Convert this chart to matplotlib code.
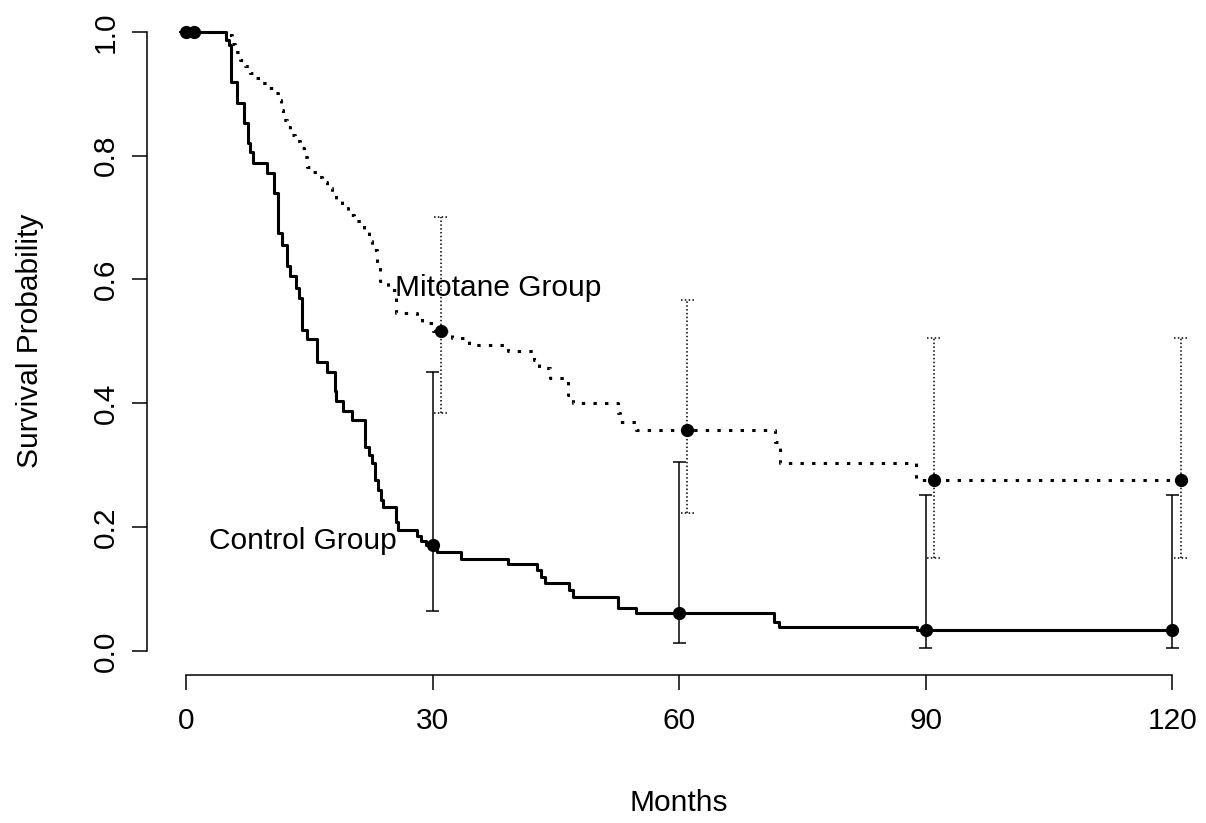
#!/usr/bin/python3
import matplotlib
matplotlib.use('Agg')
import matplotlib.pyplot as plt

# Kaplan-Meier step values (months, survival).
control_t = [0, 4.9, 5.2, 5.5, 6.2, 7.0, 7.5, 7.8, 8.2, 9.9, 10.7, 11.2, 11.7,
             12.3, 12.7, 13.4, 13.8, 14.1, 14.7, 15.9, 17.1, 18.1, 18.3, 19.1,
             20.2, 21.8, 22.2, 22.6, 23.0, 23.4, 23.7, 24.0, 25.5, 25.8, 28.1,
             28.6, 29.2, 30.5, 33.5, 39.2, 42.7, 43.2, 43.7, 46.6, 47.1, 52.6,
             54.8, 71.5, 72.2, 88.9, 120]
control_s = [1.0, 0.987, 0.979, 0.919, 0.885, 0.853, 0.82, 0.805, 0.788, 0.772,
             0.740, 0.675, 0.656, 0.621, 0.605, 0.586, 0.570, 0.519, 0.503,
             0.467, 0.451, 0.419, 0.403, 0.387, 0.373, 0.330, 0.317, 0.303,
             0.276, 0.260, 0.244, 0.233, 0.208, 0.195, 0.185, 0.178, 0.171,
             0.160, 0.149, 0.141, 0.131, 0.120, 0.110, 0.099, 0.087, 0.069,
             0.061, 0.047, 0.039, 0.033, 0.033]

mitotane_t = [0, 5.1, 5.6, 6.0, 6.6, 7.2, 7.8, 8.4, 9.0, 10.0, 10.8, 11.2, 11.5,
              11.8, 12.3, 12.7, 13.3, 13.9, 14.3, 14.7, 15.3, 15.9, 16.5, 17.1,
              17.7, 18.3, 19.0, 19.7, 20.4, 21.7, 22.2, 22.6, 23.2, 23.6, 24.6,
              25.6, 28.1, 28.7, 30.1, 32.3, 34.4, 39.2, 42.3, 42.9, 44.3, 46.5,
              47.1, 52.6, 52.8, 54.8, 71.7, 72.3, 88.8, 121]
mitotane_s = [1.0, 0.995, 0.98, 0.968, 0.955, 0.945, 0.934, 0.926, 0.918, 0.909,
              0.901, 0.89, 0.874, 0.858, 0.846, 0.834, 0.823, 0.813, 0.797,
              0.782, 0.774, 0.766, 0.757, 0.747, 0.737, 0.726, 0.715, 0.704,
              0.694, 0.677, 0.662, 0.648, 0.621, 0.597, 0.583, 0.545, 0.537,
              0.529, 0.517, 0.505, 0.494, 0.484, 0.470, 0.457, 0.440, 0.414,
              0.400, 0.384, 0.370, 0.357, 0.338, 0.303, 0.276, 0.276]

# Point estimates with confidence limits.
ctrl_pt_t = [0, 30, 60, 90, 120]
ctrl_pt_s = [1.0, 0.171, 0.061, 0.033, 0.033]
ctrl_lo = [1.0, 0.064, 0.012, 0.004, 0.004]
ctrl_hi = [1.0, 0.451, 0.305, 0.252, 0.252]

mito_pt_t = [1, 31, 61, 91, 121]
mito_pt_s = [1.0, 0.517, 0.356, 0.276, 0.276]
mito_lo = [1.0, 0.384, 0.222, 0.150, 0.150]
mito_hi = [1.0, 0.701, 0.567, 0.506, 0.506]

x_ticks = [0, 30, 60, 90, 120]
y_ticks = [0.0, 0.2, 0.4, 0.6, 0.8, 1.0]

FS = 21.5


def draw_bars(ax, t, lo, hi, style, cap=0.8):
    """
    Confidence bars with caps drawn in the line style of the group.
    """
    ax.vlines(t, lo, hi, colors='black', linestyles=style, linewidth=1.1)
    for tt, l, h in zip(t, lo, hi):
        ax.hlines([l, h], tt - cap, tt + cap, colors='black',
                  linestyles=style, linewidth=1.1)


def main():
    plt.rcParams['font.family'] = ['Liberation Sans', 'DejaVu Sans']
    fig = plt.figure(figsize=(12.06, 8.23), dpi=100)
    ax = fig.add_axes([0.1219, 0.1798, 0.8781, 0.8117])
    ax.set_xlim(-4.75, 124.1)
    ax.set_ylim(-0.039, 1.04)

    # Survival curves.
    ax.step(control_t, control_s, where='post', color='black', linewidth=2.2)
    ax.step(mitotane_t, mitotane_s, where='post', color='black',
            linewidth=2.2, linestyle=(0, (1.1, 2.7)))

    # Confidence bars and points.
    draw_bars(ax, ctrl_pt_t, ctrl_lo, ctrl_hi, 'solid')
    draw_bars(ax, mito_pt_t, mito_lo, mito_hi, (0, (1, 1.5)))
    ax.plot(ctrl_pt_t, ctrl_pt_s, 'o', color='black', markersize=8.5)
    ax.plot(mito_pt_t, mito_pt_s, 'o', color='black', markersize=8.5)

    # Group labels.
    ax.text(38.0, 0.586, 'Mitotane Group', fontsize=FS, ha='center',
            va='center')
    ax.text(14.2, 0.178, 'Control Group', fontsize=FS, ha='center',
            va='center')

    # R-like detached axes.
    for side in ['top', 'right']:
        ax.spines[side].set_visible(False)
    ax.spines['left'].set_bounds(0, 1)
    ax.spines['bottom'].set_bounds(0, 120)
    for side in ['left', 'bottom']:
        ax.spines[side].set_linewidth(1.1)
    ax.set_xticks(x_ticks)
    ax.set_xticklabels([str(v) for v in x_ticks])
    ax.set_yticks(y_ticks)
    ax.set_yticklabels(['%.1f' % v for v in y_ticks])
    ax.tick_params(direction='out', length=10.8, width=1.1, labelsize=FS)
    ax.tick_params(axis='x', pad=12)
    ax.tick_params(axis='y', pad=9, labelrotation=90)
    for lab in ax.get_yticklabels():
        lab.set_va('center')

    fig.text(30 / 1206, 1 - 341 / 823, 'Survival Probability', fontsize=FS,
             rotation=90, ha='center', va='center')
    fig.text(679 / 1206, 1 - 803 / 823, 'Months', fontsize=FS,
             ha='center', va='center')

    fig.savefig('out.png', dpi=100)


if(__name__ == '__main__'):
    main()
